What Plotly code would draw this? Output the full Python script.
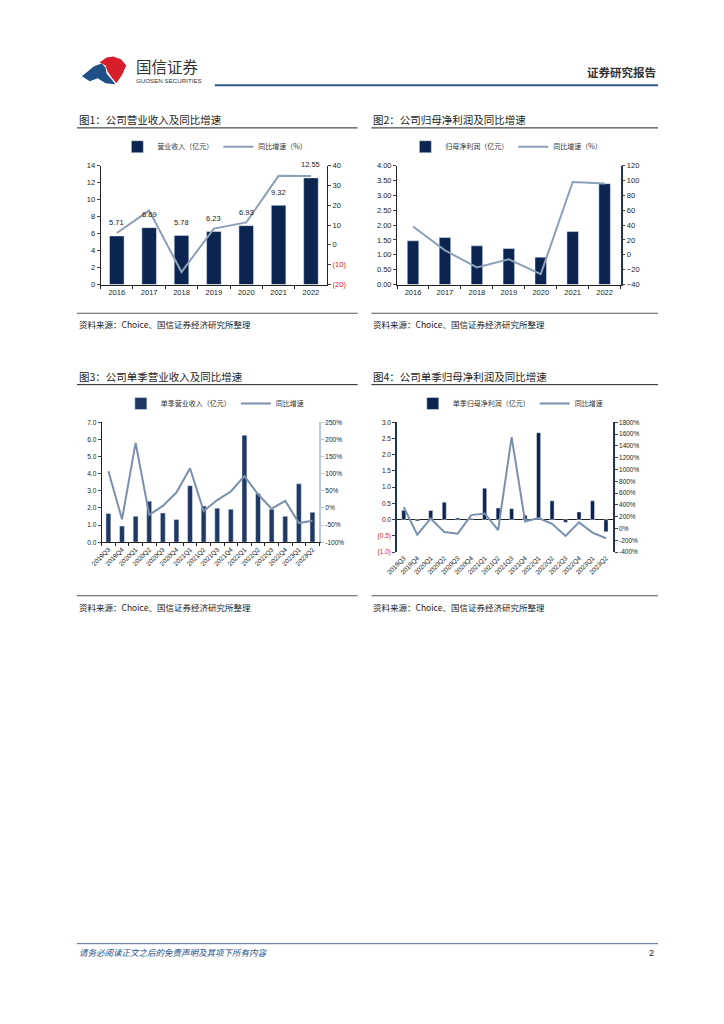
import plotly.graph_objects as go

W, H = 724, 1024
FONT = "Liberation Sans, Noto Sans CJK SC, sans-serif"
CJK = "Noto Sans CJK SC, sans-serif"
NAVY = "#0b2450"
NAVY3 = "#1f3864"
LINEC = "#8da0b8"
LINEC3 = "#7b8fae"

# ---------- data ----------
years = ["2016", "2017", "2018", "2019", "2020", "2021", "2022"]
revenue = [5.71, 6.69, 5.78, 6.23, 6.93, 9.32, 12.55]
revenue_yoy = [6.0, 17.3, -13.7, 8.2, 11.3, 34.8, 34.7]

net_profit = [1.47, 1.58, 1.30, 1.21, 0.92, 1.78, 3.39]
net_profit_yoy = [38, 6, -17, -6, -26, 98, 96]

quarters = ["2019Q3", "2019Q4", "2020Q1", "2020Q2", "2020Q3", "2020Q4",
            "2021Q1", "2021Q2", "2021Q3", "2021Q4", "2022Q1", "2022Q2",
            "2022Q3", "2022Q4", "2023Q1", "2023Q2"]
q_revenue = [1.68, 0.94, 1.52, 2.39, 1.70, 1.33, 3.30, 2.12, 1.99, 1.93,
             6.25, 2.85, 1.93, 1.52, 3.41, 1.75]
q_revenue_yoy = [107, -33, 190, -20, 6, 45, 116, -9, 23, 48, 93, 40, -2, 21, -44, -37]

q_profit = [0.29, -0.04, 0.28, 0.54, 0.05, 0.04, 0.97, 0.36, 0.34, 0.14,
            2.68, 0.58, -0.08, 0.24, 0.58, -0.37]
q_profit_yoy = [361, -104, 171, -59, -87, 227, 255, -25, 1548, 120, 176, 81,
                -126, 104, -70, -165]

fig = go.Figure()

def px(x):
    return x / W

def py(y):
    return 1 - y / H

# ---------- traces ----------
fig.add_trace(go.Bar(x=years, y=revenue, name="营业收入（亿元）", marker_color=NAVY,
                     width=0.45, xaxis="x", yaxis="y", legend="legend"))
fig.add_trace(go.Scatter(x=years, y=revenue_yoy, name="同比增速（%）", mode="lines",
                         line=dict(color=LINEC, width=2), xaxis="x", yaxis="y2", legend="legend"))

fig.add_trace(go.Bar(x=years, y=net_profit, name="归母净利润（亿元）", marker_color=NAVY,
                     width=0.36, xaxis="x2", yaxis="y3", legend="legend2"))
fig.add_trace(go.Scatter(x=years, y=net_profit_yoy, name="同比增速（%）", mode="lines",
                         line=dict(color=LINEC, width=2), xaxis="x2", yaxis="y4", legend="legend2"))

fig.add_trace(go.Bar(x=quarters, y=q_revenue, name="单季营业收入（亿元）", marker_color=NAVY3,
                     width=0.36, xaxis="x3", yaxis="y5", legend="legend3"))
fig.add_trace(go.Scatter(x=quarters, y=q_revenue_yoy, name="同比增速", mode="lines",
                         line=dict(color=LINEC3, width=2), xaxis="x3", yaxis="y6", legend="legend3"))

fig.add_trace(go.Bar(x=quarters, y=q_profit, name="单季归母净利润（亿元）", marker_color=NAVY,
                     width=0.3, xaxis="x4", yaxis="y7", legend="legend4"))
fig.add_trace(go.Scatter(x=quarters, y=q_profit_yoy, name="同比增速", mode="lines",
                         line=dict(color=LINEC3, width=2), xaxis="x4", yaxis="y8", legend="legend4"))

tickf = dict(family=FONT, size=7.5, color="#222")
tickf_small = dict(family=FONT, size=6.5, color="#222")

def red(t):
    return f"<span style='color:#e02020'>{t}</span>"

# ---------- axes ----------
fig.update_layout(
    xaxis=dict(type="category", range=[-0.5, len(years) - 0.5], domain=[px(91), px(321)],
               anchor="y", showline=True, linecolor="#222", linewidth=1, ticks="outside",
               tickson="boundaries", ticklen=3, tickcolor="#222", tickfont=tickf, showgrid=False),
    yaxis=dict(domain=[py(283), py(163)], anchor="x", range=[0, 14], tickvals=list(range(0, 15, 2)),
               showline=True, linecolor="#222", ticks="outside", ticklen=3, tickfont=tickf,
               showgrid=False, zeroline=False),
    yaxis2=dict(overlaying="y", side="right", anchor="x", range=[-20, 40],
                tickvals=[-20, -10, 0, 10, 20, 30, 40],
                ticktext=[red("(20)"), red("(10)"), "0", "10", "20", "30", "40"],
                showline=True, linecolor="#222", ticks="outside", ticklen=3, tickfont=tickf,
                showgrid=False, zeroline=False),
)
fig.update_layout(
    xaxis2=dict(type="category", domain=[px(392), px(619)], anchor="y3", showline=True,
                linecolor="#222", ticks="outside", tickson="boundaries", ticklen=3,
                tickcolor="#222", tickfont=tickf, showgrid=False),
    yaxis3=dict(domain=[py(283), py(163)], anchor="x2", range=[0, 4],
                tickvals=[i * 0.5 for i in range(9)], tickformat=".2f",
                showline=True, linecolor="#222", ticks="outside", ticklen=3, tickfont=tickf,
                showgrid=False, zeroline=False),
    yaxis4=dict(overlaying="y3", side="right", anchor="x2", range=[-40, 120],
                tickvals=list(range(-40, 121, 20)),
                showline=True, linecolor="#1d3360", linewidth=1.5, ticks="outside", ticklen=3,
                tickfont=tickf, showgrid=False, zeroline=False),
)
v6 = list(range(-100, 251, 50))
fig.update_layout(
    xaxis3=dict(type="category", domain=[px(92), px(313)], anchor="y5", showline=True,
                linecolor="#222", ticks="outside", tickson="boundaries", ticklen=3,
                tickcolor="#222", tickfont=tickf_small, tickangle=-45, showgrid=False),
    yaxis5=dict(domain=[py(543), py(422)], anchor="x3", range=[0, 7],
                tickvals=list(range(0, 8)), tickformat=".1f",
                showline=True, linecolor="#222", ticks="outside", ticklen=3, tickfont=tickf_small,
                showgrid=False, zeroline=False),
    yaxis6=dict(overlaying="y5", side="right", anchor="x3", range=[-100, 250],
                tickvals=v6, ticktext=[f"{v}%" for v in v6],
                showline=True, linecolor="#b9c8da", linewidth=1.5, ticks="outside", ticklen=3,
                tickcolor="#b9c8da", tickfont=tickf_small, showgrid=False, zeroline=False),
)
v8 = list(range(-400, 1801, 200))
fig.update_layout(
    xaxis4=dict(type="category", domain=[px(392), px(611)], anchor="y7", showline=False,
                ticks="", tickfont=tickf_small, tickangle=-45, showgrid=False),
    yaxis7=dict(domain=[py(553), py(422)], anchor="x4", range=[-1, 3],
                tickvals=[-1, -0.5, 0, 0.5, 1, 1.5, 2, 2.5, 3],
                ticktext=[red("(1.0)"), red("(0.5)"), "0.0", "0.5", "1.0", "1.5", "2.0", "2.5", "3.0"],
                showline=True, linecolor="#1d3360", linewidth=1.5, ticks="outside", ticklen=3,
                tickfont=tickf_small, showgrid=False, zeroline=True, zerolinecolor="#222",
                zerolinewidth=1),
    yaxis8=dict(overlaying="y7", side="right", anchor="x4", range=[-400, 1800],
                tickvals=v8, ticktext=[f"{v}%" for v in v8],
                showline=True, linecolor="#1d3360", linewidth=2, ticks="outside", ticklen=3,
                tickfont=tickf_small, showgrid=False, zeroline=False),
)

# ---------- legends ----------
def leg(xc, yc):
    return dict(x=px(xc), y=py(yc), xanchor="center", yanchor="middle", orientation="h",
                font=dict(family=CJK, size=7, color="#333"), bgcolor="rgba(0,0,0,0)",
                itemwidth=30, tracegroupgap=0)

fig.update_layout(legend=leg(207, 144), legend2=leg(503, 144),
                  legend3=leg(207, 403), legend4=leg(507, 403))

# ---------- bar value labels chart 1 ----------
annotations = []
for i, v in enumerate(revenue):
    annotations.append(dict(x=i, y=v, xref="x", yref="y", text=f"{v:.2f}", showarrow=False,
                            yshift=13, font=dict(family=FONT, size=7.5, color="#222")))

def text(x, y, t, size, color="#222", xanchor="left", family=CJK):
    annotations.append(dict(x=px(x), y=py(y), xref="paper", yref="paper", text=t,
                            showarrow=False, xanchor=xanchor, yanchor="middle",
                            font=dict(family=family, size=size, color=color)))

text(125, 63, "国信证券", 15.5, "#333")
text(125, 77, "GUOSEN SECURITIES", 6.2, "#333", family="Liberation Sans, sans-serif")
text(657, 69, "<b>证券研究报告</b>", 11.5, "#333", xanchor="right")

text(67, 117, "图1：公司营业收入及同比增速", 10.5)
text(366, 117, "图2：公司归母净利润及同比增速", 10.5)
text(67, 376, "图3：公司单季营业收入及同比增速", 10.5)
text(366, 376, "图4：公司单季归母净利润及同比增速", 10.5)

src = "资料来源：Choice、国信证券经济研究所整理"
text(67, 323, src, 8.5)
text(366, 323, src, 8.5)
text(67, 608, src, 8.5)
text(366, 608, src, 8.5)

text(67, 956, "<i>请务必阅读正文之后的免责声明及其项下所有内容</i>", 8.5, "#1f4e8c")
text(655, 957, "2", 9, "#222", xanchor="right", family="Liberation Sans, sans-serif")

fig.update_layout(annotations=annotations)

# ---------- page shapes ----------
shapes = []

def hline(x0, x1, y, color, width):
    shapes.append(dict(type="line", xref="paper", yref="paper", x0=px(x0), x1=px(x1),
                       y0=py(y), y1=py(y), line=dict(color=color, width=width)))

hline(207, 657, 82, "#2a5a8e", 2)
hline(67, 352, 125, "#222", 1)
hline(366, 657, 125, "#222", 1)
hline(67, 352, 384, "#222", 1)
hline(366, 657, 384, "#222", 1)
hline(67, 352, 312, "#555", 1)
hline(366, 657, 312, "#555", 1)
hline(67, 352, 597, "#555", 1)
hline(366, 657, 597, "#555", 1)
hline(67, 657, 948, "#4a6f9a", 1)

def poly(pts, color):
    d = "M " + " L ".join(f"{px(a)},{py(b)}" for a, b in pts) + " Z"
    shapes.append(dict(type="path", xref="paper", yref="paper", path=d,
                       fillcolor=color, line=dict(width=0)))

poly([(72, 73), (84, 63), (92, 60), (96, 64), (97, 70), (102, 76), (106, 81), (96, 80), (88, 75), (80, 78)], "#1f4f86")
poly([(90, 59), (97, 54), (104, 53), (112, 56), (117, 62), (113, 71), (107, 80), (102, 74), (98, 68), (96, 62)], "#d61f2b")

fig.update_layout(shapes=shapes)

fig.update_layout(width=W, height=H, margin=dict(l=0, r=0, t=0, b=0),
                  paper_bgcolor="white", plot_bgcolor="white", showlegend=True,
                  bargap=0.5, font=dict(family=FONT))

fig.write_html("out.html", config={"displayModeBar": False},
               post_script="document.body.style.margin='0';document.body.style.overflow='hidden';")
